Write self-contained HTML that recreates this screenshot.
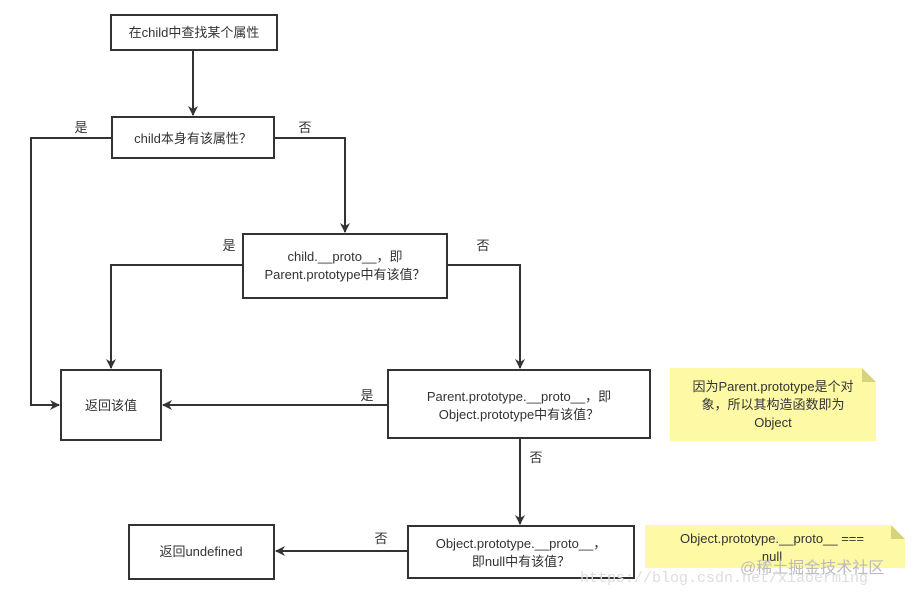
<!DOCTYPE html>
<html><head><meta charset="utf-8"><style>
html,body{margin:0;padding:0;background:#fff;}
svg text{font-family:"Liberation Sans","Noto Sans CJK SC",sans-serif;font-size:13px;fill:#333;}
</style></head><body>
<svg width="918" height="596" xmlns="http://www.w3.org/2000/svg">
<defs><marker id="a" markerWidth="10" markerHeight="10" refX="9" refY="5" orient="auto" markerUnits="userSpaceOnUse"><path d="M0,0 L10,5 L0,10 L3,5 Z" fill="#333"/></marker></defs>
<g fill="none" stroke="#333" stroke-width="2">
<rect x="111" y="15" width="166" height="35" fill="#fff"/>
<rect x="112" y="117" width="162" height="41" fill="#fff"/>
<rect x="243" y="234" width="204" height="64" fill="#fff"/>
<rect x="61" y="370" width="100" height="70" fill="#fff"/>
<rect x="388" y="370" width="262" height="68" fill="#fff"/>
<rect x="408" y="526" width="226" height="52" fill="#fff"/>
<rect x="129" y="525" width="145" height="54" fill="#fff"/>
<path d="M193 50 V115" marker-end="url(#a)"/>
<path d="M112 138 H31 V405 H59" marker-end="url(#a)"/>
<path d="M274 138 H345 V232" marker-end="url(#a)"/>
<path d="M243 265 H111 V368" marker-end="url(#a)"/>
<path d="M447 265 H520 V368" marker-end="url(#a)"/>
<path d="M388 405 H163" marker-end="url(#a)"/>
<path d="M520 438 V524" marker-end="url(#a)"/>
<path d="M408 551 H276" marker-end="url(#a)"/>
</g>
<path d="M670 368 H862 L876 382 V441 H670 Z" fill="#fdf9a5"/>
<path d="M862 368 L876 382 H862 Z" fill="#d6d27e"/>
<path d="M645 525 H891 L905 539 V568 H645 Z" fill="#fdf9a5"/>
<path d="M891 525 L905 539 H891 Z" fill="#d6d27e"/>
<g text-anchor="middle">
<text x="194" y="37">在child中查找某个属性</text>
<text x="193" y="143">child本身有该属性？</text>
<text x="345" y="261">child.__proto__，即</text>
<text x="345" y="279">Parent.prototype中有该值？</text>
<text x="111" y="410">返回该值</text>
<text x="519" y="401">Parent.prototype.__proto__，即</text>
<text x="519" y="419">Object.prototype中有该值？</text>
<text x="521" y="548">Object.prototype.__proto__，</text>
<text x="521" y="566">即null中有该值？</text>
<text x="201" y="556">返回undefined</text>
<text x="773" y="391">因为Parent.prototype是个对</text>
<text x="773" y="409">象，所以其构造函数即为</text>
<text x="773" y="427">Object</text>
<text x="772" y="543">Object.prototype.__proto__ ===</text>
<text x="772" y="561">null</text>
<text x="81" y="132">是</text>
<text x="305" y="132">否</text>
<text x="229" y="250">是</text>
<text x="483" y="250">否</text>
<text x="367" y="400">是</text>
<text x="536" y="462">否</text>
<text x="381" y="543">否</text>
</g>
<text x="740" y="573" style="font-size:16px;fill:#bbb">@稀土掘金技术社区</text>
<text x="580" y="582" style="font-family:'Liberation Mono',monospace;font-size:15px;fill:#ddd">https://blog.csdn.net/xiaoerming</text>
</svg>
</body></html>
